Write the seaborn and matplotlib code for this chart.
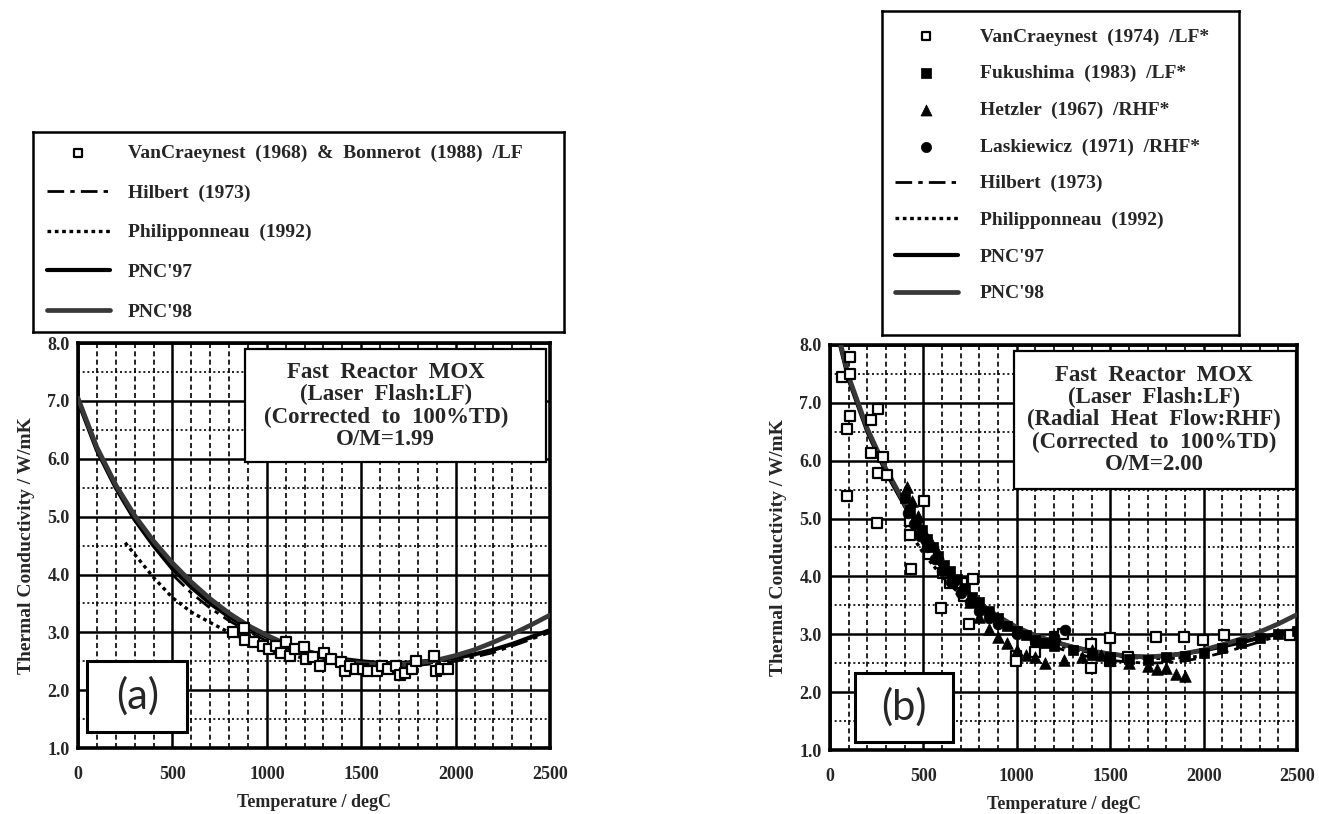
import numpy as np
import pandas as pd
import matplotlib
matplotlib.use("Agg")
import matplotlib.pyplot as plt
import seaborn as sns
from matplotlib.patches import Rectangle
from matplotlib.ticker import MultipleLocator, FormatStrFormatter

# ---------------- data : panel (a) ----------------
a_exp_T = [821, 878, 887, 934, 981, 1009, 1047, 1075, 1103, 1122, 1150, 1197, 1207, 1244,
           1282, 1301, 1338, 1395, 1414, 1442, 1470, 1508, 1536, 1583, 1611, 1639, 1686,
           1705, 1733, 1771, 1789, 1883, 1893, 1921, 1959]
a_exp_k = [3.01, 3.07, 2.86, 2.83, 2.77, 2.71, 2.77, 2.65, 2.83, 2.60, 2.71, 2.74, 2.54, 2.57,
           2.42, 2.65, 2.54, 2.48, 2.33, 2.42, 2.36, 2.36, 2.33, 2.33, 2.42, 2.36, 2.42,
           2.27, 2.30, 2.36, 2.51, 2.60, 2.33, 2.36, 2.36]

a_pnc97_T = [0, 100, 200, 300, 400, 500, 600, 700, 800, 900, 1000, 1100, 1200, 1300, 1400,
             1500, 1600, 1700, 1800, 1900, 2000, 2100, 2200, 2300, 2400, 2500]
a_pnc97_k = [7.00, 6.15, 5.50, 4.95, 4.50, 4.10, 3.78, 3.50, 3.27, 3.08, 2.92, 2.80, 2.69, 2.60,
             2.54, 2.50, 2.47, 2.47, 2.49, 2.52, 2.56, 2.62, 2.70, 2.80, 2.92, 3.04]
a_pnc98_T = a_pnc97_T
a_pnc98_k = [7.05, 6.20, 5.55, 5.02, 4.58, 4.20, 3.87, 3.58, 3.33, 3.12, 2.95, 2.80, 2.68, 2.58,
             2.51, 2.46, 2.44, 2.44, 2.47, 2.52, 2.60, 2.70, 2.83, 2.97, 3.13, 3.30]
a_hilb_T = [500, 600, 700, 800, 900, 1000, 1200, 1400, 1600, 1800, 2000, 2200, 2400, 2500]
a_hilb_k = [4.00, 3.68, 3.42, 3.20, 3.02, 2.85, 2.62, 2.48, 2.42, 2.43, 2.50, 2.65, 2.88, 3.00]
a_phil_T = [250, 300, 400, 500, 600, 700, 800, 900, 1000, 1100, 1200, 1300, 1400, 1500,
            1600, 1700, 1800, 1900, 2000]
a_phil_k = [4.55, 4.35, 3.95, 3.60, 3.35, 3.17, 3.00, 2.85, 2.73, 2.63, 2.55, 2.49, 2.45, 2.42,
            2.41, 2.42, 2.45, 2.49, 2.55]

# ---------------- data : panel (b) ----------------
b_van_T = [62, 108, 108, 108, 93, 93, 220, 220, 258, 249, 286, 258, 305, 426, 426, 435, 501,
           529, 604, 595, 641, 707, 716, 744, 763, 996, 996, 1099, 1202, 1249, 1399, 1399,
           1501, 1501, 1594, 1744, 1893, 1996, 2108, 2464]
b_van_k = [7.44, 7.79, 7.50, 6.78, 6.55, 5.39, 6.70, 6.13, 6.90, 4.92, 6.07, 5.78, 5.75, 4.95,
           4.71, 4.12, 5.30, 4.38, 4.06, 3.46, 3.88, 3.88, 3.67, 3.17, 3.96, 2.63, 2.54, 2.69,
           2.95, 3.01, 2.84, 2.42, 2.93, 2.54, 2.60, 2.95, 2.95, 2.90, 2.99, 2.99]
b_fuku_T = [400, 430, 460, 490, 520, 550, 580, 610, 640, 680, 720, 760, 800, 850, 900, 950,
            1000, 1050, 1100, 1150, 1200, 1300, 1400, 1500, 1600, 1700, 1800, 1900, 2000,
            2100, 2200, 2300, 2400, 2500]
b_fuku_k = [5.35, 5.15, 4.95, 4.80, 4.65, 4.50, 4.35, 4.20, 4.10, 3.95, 3.80, 3.65, 3.55, 3.40,
            3.28, 3.15, 3.05, 2.98, 2.90, 2.85, 2.80, 2.72, 2.65, 2.60, 2.57, 2.56, 2.60, 2.63,
            2.68, 2.77, 2.85, 2.93, 3.00, 3.05]
b_hetz_T = [410, 440, 470, 500, 540, 580, 620, 660, 700, 750, 800, 850, 900, 950, 1000, 1050,
            1100, 1150, 1250, 1350, 1400, 1450, 1500, 1600, 1700, 1750, 1800, 1850, 1900]
b_hetz_k = [5.55, 5.30, 5.05, 4.80, 4.60, 4.40, 4.15, 3.95, 3.80, 3.55, 3.30, 3.10, 2.95, 2.85,
            2.72, 2.65, 2.60, 2.50, 2.55, 2.60, 2.72, 2.65, 2.55, 2.50, 2.45, 2.40, 2.42, 2.32,
            2.28]
b_lask_T = [420, 450, 480, 520, 560, 600, 650, 700, 750, 800, 850, 900, 1000, 1100, 1200, 1260]
b_lask_k = [5.10, 4.90, 4.70, 4.50, 4.30, 4.10, 3.90, 3.72, 3.55, 3.40, 3.28, 3.18, 3.00, 2.88,
            2.95, 3.08]

b_pnc97_T = [0, 100, 200, 300, 400, 500, 600, 700, 800, 900, 1000, 1100, 1200, 1300, 1400,
             1500, 1600, 1700, 1800, 1900, 2000, 2100, 2200, 2300, 2400, 2500]
b_pnc97_k = [8.70, 7.40, 6.50, 5.80, 5.22, 4.60, 4.15, 3.80, 3.50, 3.28, 3.10, 2.97, 2.87, 2.78,
             2.71, 2.66, 2.62, 2.61, 2.63, 2.67, 2.72, 2.79, 2.86, 2.94, 3.01, 3.08]
b_pnc98_T = b_pnc97_T
b_pnc98_k = [8.75, 7.45, 6.55, 5.85, 5.26, 4.65, 4.20, 3.84, 3.54, 3.31, 3.12, 2.98, 2.87, 2.78,
             2.71, 2.66, 2.62, 2.61, 2.63, 2.67, 2.73, 2.82, 2.92, 3.04, 3.18, 3.34]
b_hilb_T = [400, 500, 600, 700, 800, 900, 1000, 1100, 1200, 1300, 1400, 1500, 1600, 1700,
            1800, 1900, 2000, 2100, 2200, 2300, 2400, 2500]
b_hilb_k = [5.10, 4.55, 4.12, 3.77, 3.48, 3.24, 3.05, 2.90, 2.78, 2.68, 2.60, 2.55, 2.52, 2.50,
            2.51, 2.54, 2.60, 2.68, 2.77, 2.87, 2.97, 3.08]
b_phil_T = [400, 500, 600, 700, 800, 900, 1000, 1200, 1400, 1600, 1800, 2000]
b_phil_k = [4.90, 4.40, 4.00, 3.68, 3.42, 3.22, 3.05, 2.82, 2.68, 2.60, 2.58, 2.62]

x_ticks = [0, 500, 1000, 1500, 2000, 2500]
y_ticks = [1.0, 2.0, 3.0, 4.0, 5.0, 6.0, 7.0, 8.0]
a_note = "Fast  Reactor  MOX\n(Laser  Flash:LF)\n(Corrected  to  100%TD)\nO/M=1.99"
b_note = ("Fast  Reactor  MOX\n(Laser  Flash:LF)\n(Radial  Heat  Flow:RHF)\n"
          "(Corrected  to  100%TD)\nO/M=2.00")

# ---------------- style ----------------
sns.set_style("white")
plt.rcParams['font.family'] = ['Liberation Serif', 'DejaVu Serif']
plt.rcParams['font.weight'] = 'bold'

fig = plt.figure(figsize=(13.19, 8.14), dpi=100)
axA = fig.add_axes([0.0591, 0.081, 0.358, 0.4975])
axB = fig.add_axes([0.6293, 0.0786, 0.354, 0.4976])

HILB = (0, (6, 2.2, 1.6, 2.2))
PHIL = (0, (1.1, 1.1))


def style_axes(ax):
    ax.set_xlim(0, 2500)
    ax.set_ylim(1, 8)
    ax.set_xticks(x_ticks)
    ax.set_yticks(y_ticks)
    ax.xaxis.set_minor_locator(MultipleLocator(100))
    ax.yaxis.set_minor_locator(MultipleLocator(0.5))
    ax.yaxis.set_major_formatter(FormatStrFormatter('%.1f'))
    ax.xaxis.set_major_formatter(FormatStrFormatter('%d'))
    ax.set_axisbelow(True)
    ax.grid(which='major', color='black', lw=1.8, ls='-')
    ax.xaxis.grid(which='minor', color='black', lw=1.2, ls=(0, (3, 2)))
    ax.yaxis.grid(which='minor', color='black', lw=1.2, ls=(0, (1.2, 1.6)))
    ax.tick_params(which='both', length=0, labelsize=13)
    ax.tick_params(axis='x', pad=13)
    ax.tick_params(axis='y', pad=6)
    for s in ax.spines.values():
        s.set_visible(True)
        s.set_color('black')
        s.set_linewidth(2.6)
    ax.set_xlabel("Temperature / degC", fontsize=13, fontweight='bold', labelpad=8)
    ax.set_ylabel("Thermal Conductivity / W/mK", fontsize=14, fontweight='bold', labelpad=9)


def draw_lines(ax, hT, hk, pT, pk, T97, k97, T98, k98):
    sns.lineplot(x=hT, y=hk, ax=ax, color='black', lw=2.0, linestyle=HILB,
                 label="Hilbert  (1973)", sort=False, zorder=3)
    sns.lineplot(x=pT, y=pk, ax=ax, color='black', lw=2.4, linestyle=PHIL,
                 label="Philipponneau  (1992)", sort=False, zorder=3)
    sns.lineplot(x=T97, y=k97, ax=ax, color='black', lw=3.0,
                 label="PNC'97", sort=False, zorder=4)
    sns.lineplot(x=T98, y=k98, ax=ax, color='#383838', lw=3.4,
                 label="PNC'98", sort=False, zorder=4)


# ---- panel (a)
style_axes(axA)
sns.scatterplot(x=a_exp_T, y=a_exp_k, ax=axA, marker='s', s=45, color='white',
                edgecolor='black', linewidth=1.6, zorder=5,
                label="VanCraeynest  (1968)  &  Bonnerot  (1988)  /LF")
draw_lines(axA, a_hilb_T, a_hilb_k, a_phil_T, a_phil_k,
           a_pnc97_T, a_pnc97_k, a_pnc98_T, a_pnc98_k)

# ---- panel (b)
style_axes(axB)
sns.scatterplot(x=b_van_T, y=b_van_k, ax=axB, marker='s', s=45, color='white',
                edgecolor='black', linewidth=1.6, zorder=5,
                label="VanCraeynest  (1974)  /LF*")
sns.scatterplot(x=b_fuku_T, y=b_fuku_k, ax=axB, marker='s', s=55, color='black',
                edgecolor='black', linewidth=0.5, zorder=5,
                label="Fukushima  (1983)  /LF*")
sns.scatterplot(x=b_hetz_T, y=b_hetz_k, ax=axB, marker='^', s=70, color='black',
                edgecolor='black', linewidth=0.5, zorder=5,
                label="Hetzler  (1967)  /RHF*")
sns.scatterplot(x=b_lask_T, y=b_lask_k, ax=axB, marker='o', s=60, color='black',
                edgecolor='black', linewidth=0.5, zorder=5,
                label="Laskiewicz  (1971)  /RHF*")
draw_lines(axB, b_hilb_T, b_hilb_k, b_phil_T, b_phil_k,
           b_pnc97_T, b_pnc97_k, b_pnc98_T, b_pnc98_k)

# ---- annotation boxes
for ax, (x0, y0, x1, y1), note, tx, ty in [
        (axA, (0.354, 0.707, 0.992, 0.986), a_note, 0.652, 0.845),
        (axB, (0.394, 0.644, 0.997, 0.986), b_note, 0.694, 0.815)]:
    ax.add_patch(Rectangle((x0, y0), x1 - x0, y1 - y0, transform=ax.transAxes,
                           facecolor='white', edgecolor='black', lw=1.6, zorder=8))
    ax.text(tx, ty, note, transform=ax.transAxes, ha='center', va='center',
            fontsize=16.5, fontweight='bold', linespacing=1.08, zorder=9)

for ax, (x0, y0, x1, y1), lab in [
        (axA, (0.020, 0.039, 0.231, 0.216), "(a)"),
        (axB, (0.054, 0.021, 0.264, 0.191), "(b)")]:
    ax.add_patch(Rectangle((x0, y0), x1 - x0, y1 - y0, transform=ax.transAxes,
                           facecolor='white', edgecolor='black', lw=2.2, zorder=8))
    ax.text((x0 + x1) / 2, (y0 + y1) / 2, lab, transform=ax.transAxes, ha='center',
            va='center', fontsize=30, fontweight='normal', family=['Lato', 'DejaVu Sans'],
            zorder=9)

# ---- legends in their own framed boxes
for ax, rect, anchor, lspace, tpad, mscale in [
        (axA, [0.025, 0.592, 0.4026, 0.2457], (0.026, 0.94), 1.14, 0.93, 0.8),
        (axB, [0.6687, 0.5885, 0.2707, 0.398], (0.036, 0.948), 0.98, 1.13, 0.95)]:
    handles, labels = ax.get_legend_handles_labels()
    if ax.get_legend() is not None:
        ax.get_legend().remove()
    lax = fig.add_axes(rect)
    lax.set_xticks([])
    lax.set_yticks([])
    for s in lax.spines.values():
        s.set_visible(True)
        s.set_color('black')
        s.set_linewidth(1.8)
    lax.legend(handles, labels, loc='upper left', bbox_to_anchor=anchor, frameon=False,
               borderpad=0, borderaxespad=0, handlelength=3.25, handletextpad=tpad,
               labelspacing=lspace, prop={'family': 'Liberation Serif', 'weight': 'bold',
                                          'size': 14}, scatterpoints=1, markerscale=mscale)

fig.savefig("out.png", dpi=100)
